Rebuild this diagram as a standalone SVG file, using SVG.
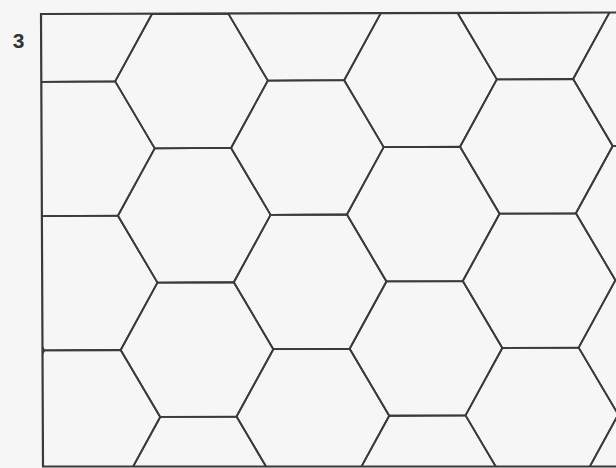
<svg xmlns="http://www.w3.org/2000/svg" xmlns:xlink="http://www.w3.org/1999/xlink" width="616" height="468" viewBox="0 0 616 468">
  <style>
    .hx { fill: none; stroke: #3a3a3a; stroke-width: 1.8; stroke-linejoin: round; vector-effect: non-scaling-stroke; }
    .frame { fill: none; stroke: #3a3a3a; stroke-width: 2.2; }
    .lbl { font-family: "Liberation Sans", Arial, sans-serif; font-weight: bold; font-size: 21px; fill: #333; }
  </style>
  <defs>
    <path id="h" class="hx" d="M1,0 L0.5,0.866 L-0.5,0.866 L-1,0 L-0.5,-0.866 L0.5,-0.866 Z"/>
    <clipPath id="clip">
      <polygon points="41,14 616,12.5 616,466.5 43,466.5"/>
    </clipPath>
  </defs>
  <rect width="616" height="468" fill="#f6f6f6"/>
  <g id="tiling" clip-path="url(#clip)">
    <g transform="matrix(76.33,-0.4,1.588,77.54,191.5,81)">
      <use href="#h" x="-1.5" y="-0.866"/>
      <use href="#h" x="-1.5" y="0.866"/>
      <use href="#h" x="-1.5" y="2.598"/>
      <use href="#h" x="-1.5" y="4.330"/>
      <use href="#h" x="0" y="-1.732"/>
      <use href="#h" x="0" y="0"/>
      <use href="#h" x="0" y="1.732"/>
      <use href="#h" x="0" y="3.464"/>
      <use href="#h" x="0" y="5.196"/>
      <use href="#h" x="1.5" y="-0.866"/>
      <use href="#h" x="1.5" y="0.866"/>
      <use href="#h" x="1.5" y="2.598"/>
      <use href="#h" x="1.5" y="4.330"/>
      <use href="#h" x="3" y="-1.732"/>
      <use href="#h" x="3" y="0"/>
      <use href="#h" x="3" y="1.732"/>
      <use href="#h" x="3" y="3.464"/>
      <use href="#h" x="3" y="5.196"/>
      <use href="#h" x="4.5" y="-0.866"/>
      <use href="#h" x="4.5" y="0.866"/>
      <use href="#h" x="4.5" y="2.598"/>
      <use href="#h" x="4.5" y="4.330"/>
      <use href="#h" x="6" y="-1.732"/>
      <use href="#h" x="6" y="0"/>
      <use href="#h" x="6" y="1.732"/>
      <use href="#h" x="6" y="3.464"/>
      <use href="#h" x="6" y="5.196"/>
    </g>
  </g>
  <g id="frame">
    <path class="frame" d="M617,12.5 L41,14 L43,466.5 L617,466.5"/>
  </g>
  <text id="label-3" class="lbl" x="18.5" y="48" text-anchor="middle">3</text>
</svg>
